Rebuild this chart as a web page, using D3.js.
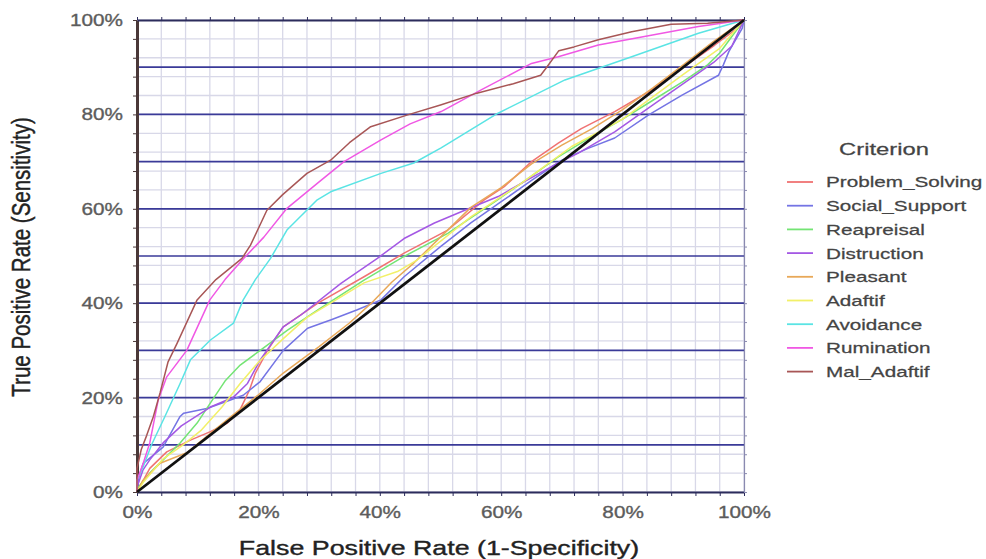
<!DOCTYPE html>
<html>
<head>
<meta charset="utf-8">
<script src="https://cdn.jsdelivr.net/npm/d3@7"></script>
<style>
  body { margin: 0; background: #fff; }
  svg { display: block; font-family: "Liberation Sans", Arial, sans-serif; }
</style>
</head>
<body>
<svg id="chart" width="986" height="559"></svg>
<script>
// ROC points, [false positive rate %, true positive rate %]
var problemSolving = [[0,0],[2.1,5],[4.9,8.5],[8.8,11],[12.1,12.8],[14.9,14.6],[17,17.5],[18.5,21.5],[19.5,25.2],[21.5,30],[24.1,35],[29.8,40],[37.4,45.6],[44,50.6],[51.2,55.5],[57.2,61.9],[60.5,64.7],[65,70],[69.4,73.9],[73.2,77],[78.7,80.6],[84.3,84.8],[89.8,89.8],[95.2,94.7],[99.7,99],[100,100]];
var socialSupport = [[0,0],[0.3,3],[1,6],[4.3,9.5],[7.1,16],[7.7,16.7],[11.5,17.7],[15.4,19.5],[17.5,20.5],[20.3,23.4],[24.1,30],[28.1,34.7],[32,36.5],[36.3,38.6],[40.2,40.7],[44,45.6],[50,52],[55,57],[60,61.5],[65,66],[70,70.3],[74.3,72.8],[78.7,75],[84.3,79.9],[89.8,84.1],[95.8,88.3],[96.6,90.5],[97.5,93.3],[99.7,98.2],[100,100]];
var reapreisal = [[0,0],[0,0.7],[2.1,4],[4.3,6.8],[7.1,10.4],[9.9,14.6],[12.1,18.9],[14.5,23.5],[17,26.9],[20.3,30],[24.8,34.3],[29.8,38.6],[37.4,44.9],[44,49.9],[51.2,54.8],[59.4,61.9],[63.3,65.4],[69.4,71],[74.9,75.3],[80,79],[85,83],[90,87],[94,90.5],[96,93],[100,100]];
var distruction = [[0,0],[0,1],[1,4.7],[2.1,6.8],[4.3,10.4],[7.3,14],[12.1,18],[15.9,20.1],[18.2,23],[20.3,28],[24.1,35],[27,37.5],[33.6,44.2],[39.6,49.5],[44,53.7],[49,57],[54,59.7],[59.5,62.6],[63.3,65.4],[68.8,69.3],[72.7,71.8],[78.7,76.3],[85,82],[90,86.5],[95,91],[98,94.5],[100,100]];
var pleasant = [[0,0],[1,2.5],[3.8,6.1],[8.2,8.3],[12,12.3],[16,16.5],[20,20.6],[24.1,25.2],[30,30.8],[35,35.8],[39,40.5],[42,44.5],[45.6,48.5],[50,54],[55,60.3],[60,64.5],[65,69.5],[70,73.5],[75,77],[80,81],[85,85.6],[90,90.5],[95,95.5],[100,100]];
var adaftif = [[0,0],[1,2],[4.3,7],[7.6,10],[10.5,13],[14,18],[17,23],[20,27.5],[24.1,32.5],[28,37],[31.9,40],[37.4,44.3],[42.9,46.7],[46.2,49.2],[55,58.3],[63.3,65.4],[71.6,73.2],[80,79],[90,88.5],[96,94],[100,100]];
var avoidance = [[0,0],[0,2.5],[1,5.3],[2.4,10],[4.6,16],[7.1,23],[8.8,28],[12.1,32.2],[15.9,35.8],[17.5,40.7],[19.5,45],[22,49.5],[24.7,55.5],[29.7,61.9],[31.9,63.6],[40.2,67.5],[45.6,69.7],[50.1,72.9],[59.4,80.2],[70.5,87.3],[81.5,92.2],[92.5,97.2],[100,100]];
var rumination = [[0,0],[0,2.5],[1,6],[2.1,10.4],[3.5,19.5],[4.9,24.4],[8.2,30],[12,40.7],[14.5,45],[17.6,49.5],[20.9,54],[24.7,60.1],[29.7,65.4],[34.1,70],[40.2,74.6],[45,78],[50.1,80.6],[56.7,85.2],[65,90.8],[69.4,92.2],[76,94.7],[83.6,96.5],[92.5,98.6],[100,100]];
var malAdaftif = [[0,0],[0,5],[0.7,9],[1.6,12],[2.7,16],[3.8,21],[5.1,27.5],[6.6,31.5],[9.9,40.7],[13,45],[17.3,49.5],[18.7,52.3],[21.4,59.7],[24,63],[28,67.5],[31.9,70.3],[35,74],[38.5,77.4],[44.6,79.9],[50,82],[56,84.5],[62,86.5],[66.5,88.3],[67.5,90],[69.5,93.5],[72,94.3],[76,95.8],[81.5,97.5],[88,99.1],[94,99.3],[100,100]];
var reference = [[0,0],[100,100]];

var criteria = ["Problem_Solving","Social_Support","Reapreisal","Distruction","Pleasant","Adaftif","Avoidance","Rumination","Mal_Adaftif"];
var curves = [problemSolving, socialSupport, reapreisal, distruction, pleasant, adaftif, avoidance, rumination, malAdaftif];
var colors = ["#f07272","#7474e4","#74e474","#a458e4","#e8a858","#f2f068","#5ae4e4","#f058e4","#a85656"];
var tickValues = d3.range(0, 101, 4);
var labelValues = [0, 20, 40, 60, 80, 100];
var blueLines = d3.range(10, 100, 10);

var svg = d3.select('#chart');
var x = d3.scaleLinear().domain([0, 100]).range([137, 744]);
var y = d3.scaleLinear().domain([0, 100]).range([492, 20]);

/* --------- GRID ---------*/
var grid = svg.append('g');
grid.selectAll('line.vg').data(tickValues).enter().append('line')
    .attr('x1', function (d) { return x(d); }).attr('x2', function (d) { return x(d); })
    .attr('y1', y(0)).attr('y2', y(100))
    .attr('stroke', '#d8d8e8').attr('stroke-width', 1.3);
grid.selectAll('line.hg').data(tickValues).enter().append('line')
    .attr('y1', function (d) { return y(d); }).attr('y2', function (d) { return y(d); })
    .attr('x1', x(0)).attr('x2', x(100))
    .attr('stroke', '#d8d8e8').attr('stroke-width', 1.3);
grid.selectAll('line.bl').data(blueLines).enter().append('line')
    .attr('y1', function (d) { return y(d); }).attr('y2', function (d) { return y(d); })
    .attr('x1', x(0)).attr('x2', x(100))
    .attr('stroke', '#3a3a98').attr('stroke-width', 1.7);

/* --------- AXES ---------*/
function fmt(d) { return labelValues.indexOf(d) >= 0 ? d + '%' : ''; }

var xAxis = svg.append('g').attr('transform', 'translate(0,' + y(0) + ')')
    .call(d3.axisBottom(x).tickValues(tickValues).tickSize(4).tickSizeOuter(0).tickPadding(6).tickFormat(fmt));
var yAxis = svg.append('g').attr('transform', 'translate(' + x(0) + ',0)')
    .call(d3.axisLeft(y).tickValues(tickValues).tickSize(4).tickSizeOuter(0).tickPadding(6).tickFormat(fmt));
var topAxis = svg.append('g').attr('transform', 'translate(0,' + y(100) + ')')
    .call(d3.axisTop(x).tickValues(tickValues).tickSize(3).tickSizeOuter(0).tickFormat(''));
var rightAxis = svg.append('g').attr('transform', 'translate(' + x(100) + ',0)')
    .call(d3.axisRight(y).tickValues(tickValues).tickSize(3).tickSizeOuter(0).tickFormat(''));

[xAxis, topAxis].forEach(function (a) {
    a.select('.domain').attr('stroke', '#2c2c5c').attr('stroke-width', 2);
    a.selectAll('.tick line').attr('stroke', '#2c2c5c');
});
yAxis.select('.domain').attr('stroke', '#4a3838').attr('stroke-width', 3);
yAxis.selectAll('.tick line').attr('stroke', '#4a3838');
rightAxis.select('.domain').attr('stroke', '#8a8ab0').attr('stroke-width', 1.2);
rightAxis.selectAll('.tick line').attr('stroke', '#8a8ab0');

// the picture is stretched sideways, so labels get a horizontal scale
[xAxis, yAxis].forEach(function (a) {
    a.selectAll('.tick text').attr('fill', '#5c5c5c').attr('font-size', 17)
        .attr('stroke', '#5c5c5c').attr('stroke-width', 0.35)
        .attr('font-family', '"Liberation Sans", Arial, sans-serif');
});
xAxis.selectAll('.tick text').attr('dy', '0.95em').attr('transform', 'scale(1.22,1)');
yAxis.selectAll('.tick text').attr('x', -14 / 1.22).attr('transform', 'scale(1.22,1)');

/* --------- CURVES ---------*/
var line = d3.line()
    .x(function (d) { return x(d[0]); })
    .y(function (d) { return y(d[1]); });

svg.append('g').selectAll('path').data(curves).enter().append('path')
    .attr('d', line)
    .attr('fill', 'none')
    .attr('stroke', function (d, i) { return colors[i]; })
    .attr('stroke-width', 1.5)
    .attr('stroke-linejoin', 'round');

svg.append('path').datum(reference)
    .attr('d', line)
    .attr('fill', 'none')
    .attr('stroke', '#111')
    .attr('stroke-width', 2.8);

/* --------- TITLES ---------*/
svg.append('text')
    .attr('transform', 'translate(439,555) scale(1.34,1)')
    .attr('text-anchor', 'middle')
    .attr('font-size', 20).attr('fill', '#222')
    .attr('stroke', '#222').attr('stroke-width', 0.35)
    .text('False Positive Rate (1-Specificity)');

svg.append('text')
    .attr('transform', 'translate(30,257) rotate(-90) scale(1,1.3)')
    .attr('text-anchor', 'middle')
    .attr('font-size', 20.5).attr('fill', '#222')
    .attr('stroke', '#222').attr('stroke-width', 0.35)
    .text('True Positive Rate (Sensitivity)');

/* --------- LEGEND ---------*/
var legend = svg.append('g');
legend.append('text')
    .attr('transform', 'translate(884,155) scale(1.4,1)')
    .attr('text-anchor', 'middle')
    .attr('font-size', 17).attr('fill', '#444')
    .attr('stroke', '#444').attr('stroke-width', 0.25)
    .text('Criterion');

var rows = legend.selectAll('g.row').data(criteria).enter().append('g')
    .attr('class', 'row')
    .attr('transform', function (d, i) { return 'translate(0,' + (182 + i * 23.7) + ')'; });
rows.append('line')
    .attr('x1', 787).attr('x2', 813)
    .attr('stroke', function (d, i) { return colors[i]; })
    .attr('stroke-width', 1.8);
rows.append('text')
    .attr('transform', 'translate(826,0) scale(1.38,1)')
    .attr('dy', '0.36em')
    .attr('font-size', 15).attr('fill', '#444')
    .attr('stroke', '#444').attr('stroke-width', 0.25)
    .text(function (d) { return d; });
</script>
</body>
</html>
